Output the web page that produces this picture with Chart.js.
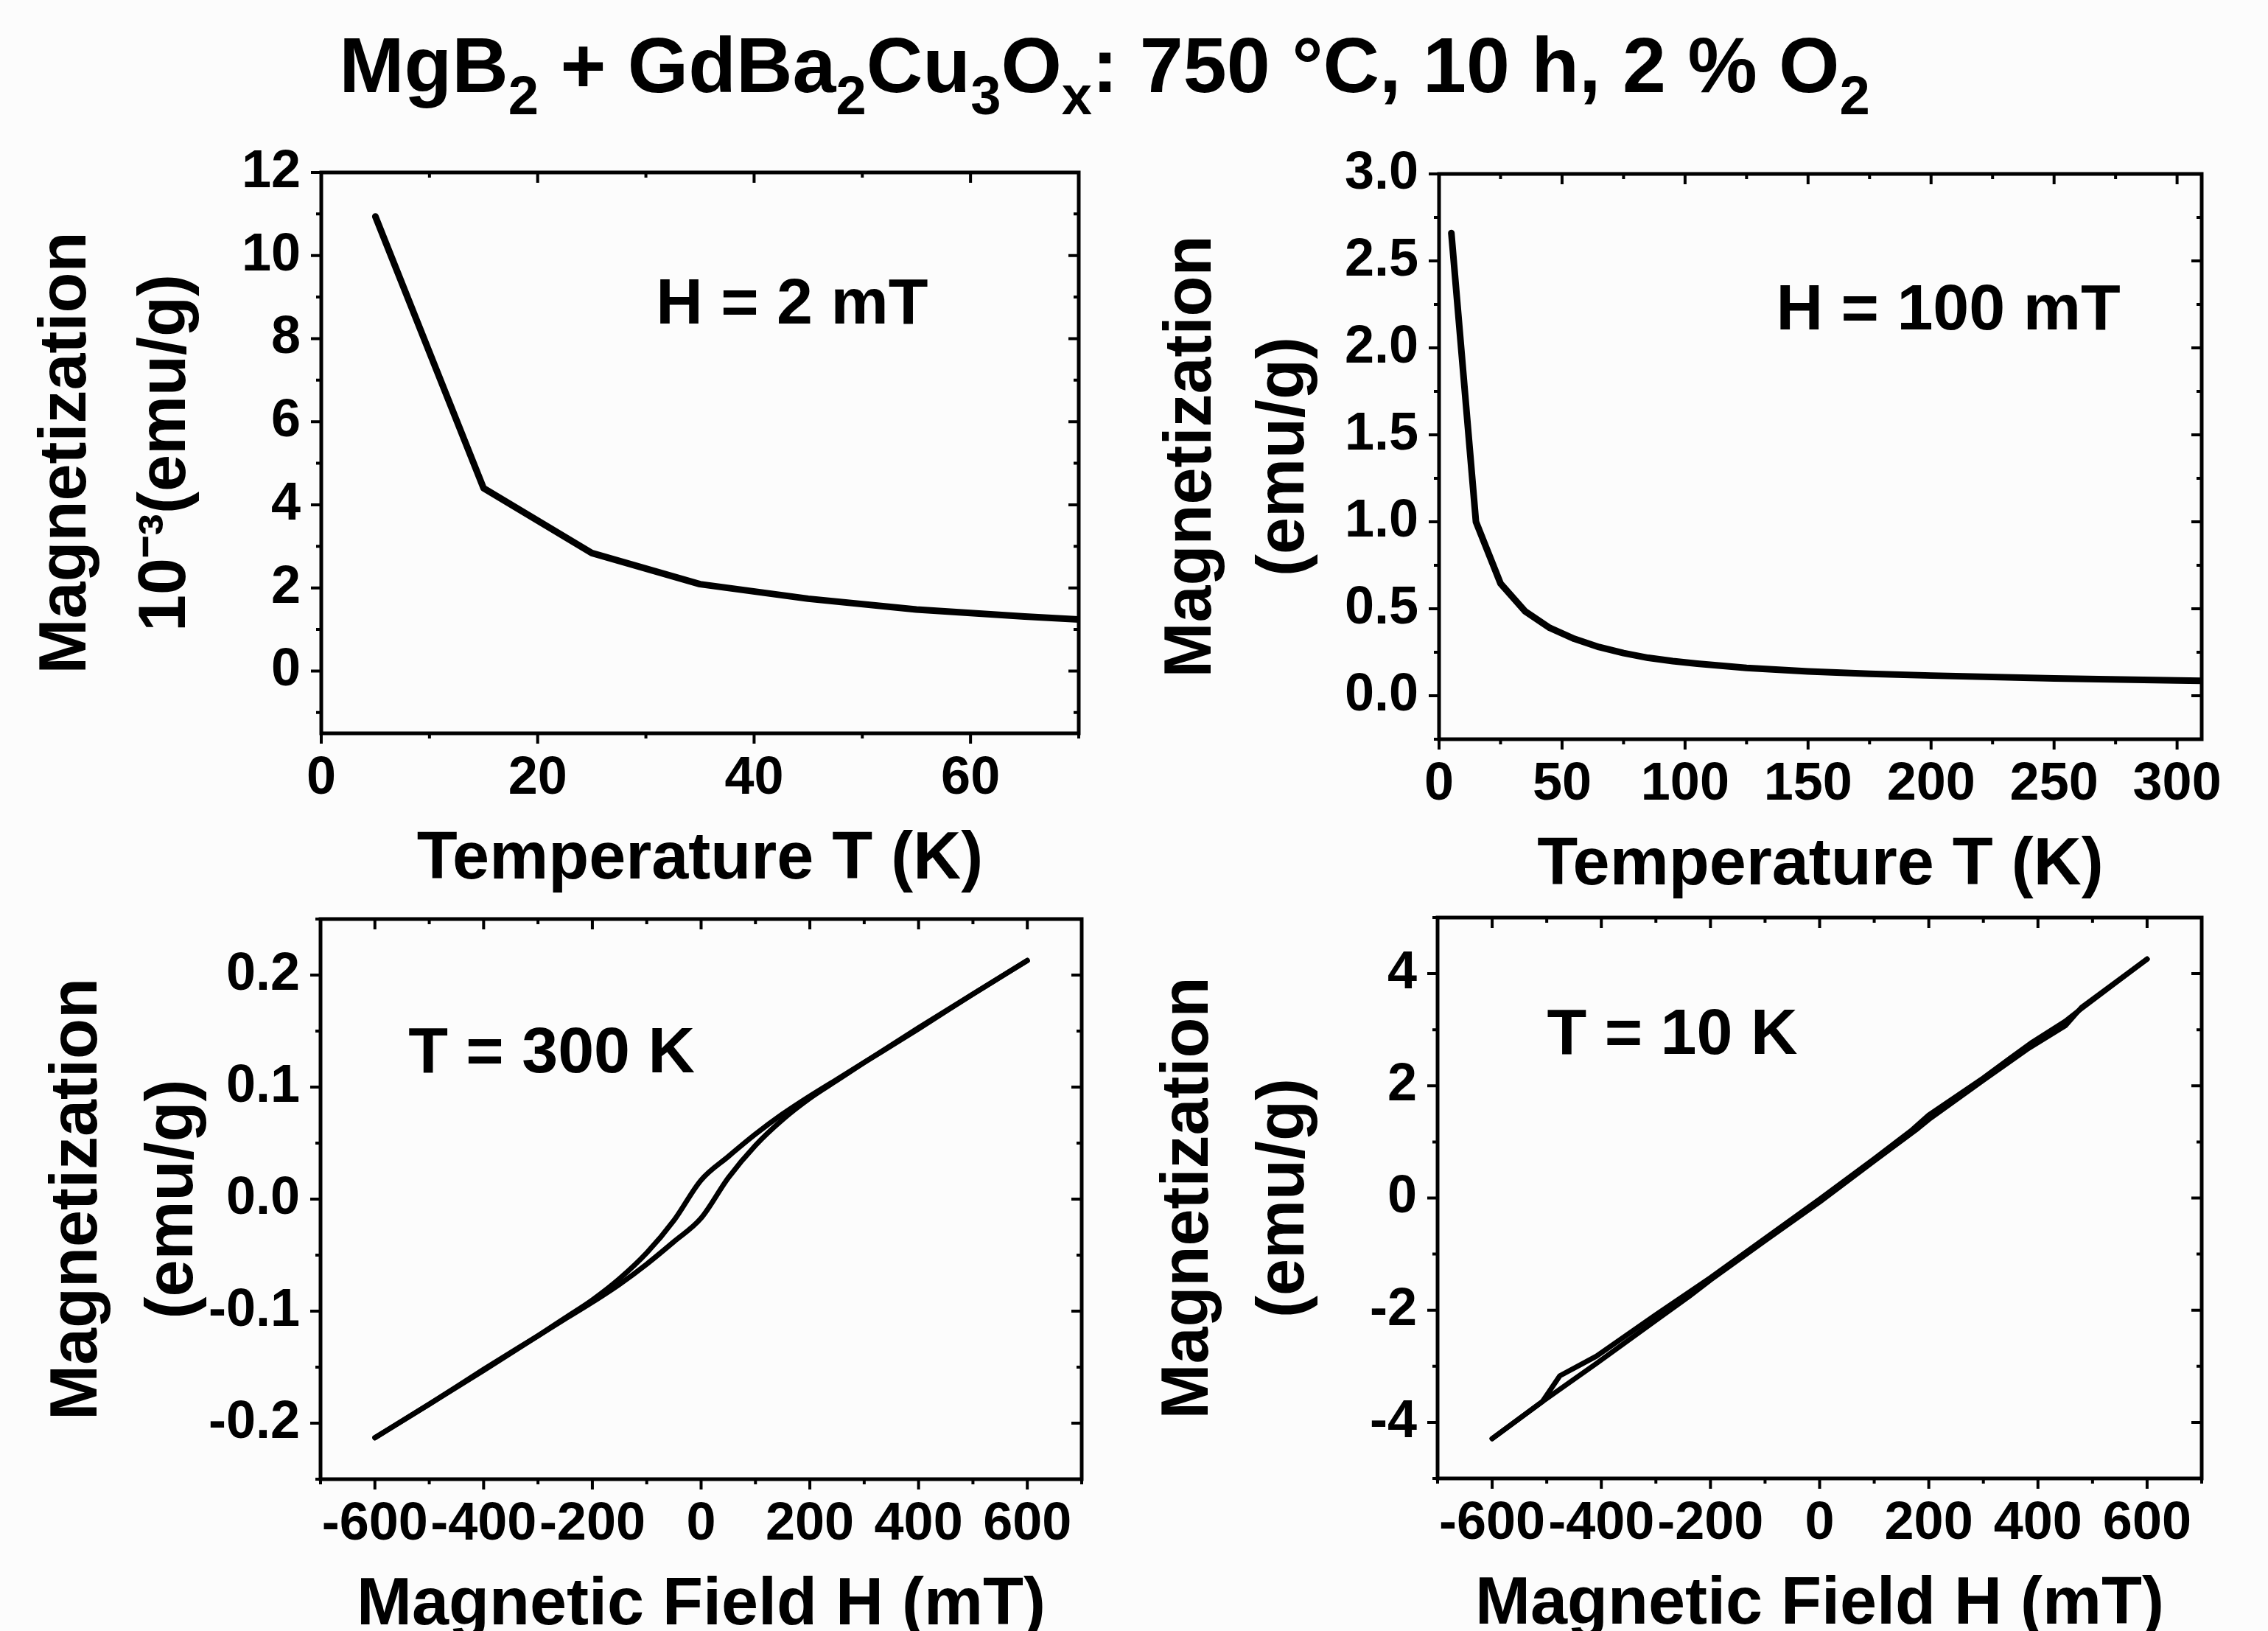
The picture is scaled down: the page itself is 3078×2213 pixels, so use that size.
<!DOCTYPE html>
<html>
<head>
<meta charset="utf-8">
<script src="https://cdn.jsdelivr.net/npm/chart.js@4.4.1/dist/chart.umd.min.js"></script>
<style>
html, body { margin:0; padding:0; background:#fcfcfc; width:3078px; height:2213px; overflow:hidden; position:relative; font-family:"Liberation Sans", Arial, sans-serif; }
#title { position:absolute; left:1499px; top:35px; transform:translateX(-50%); font-size:106px; font-weight:bold; line-height:106px; white-space:nowrap; color:#000; }
#title sub { font-size:0.7em; vertical-align:baseline; position:relative; top:30px; line-height:0; }
.panel { position:absolute; }
</style>
</head>
<body>
<div id="title">MgB<sub>2</sub> + GdBa<sub>2</sub>Cu<sub>3</sub>O<sub>x</sub>: 750 °C, 10 h, 2 % O<sub>2</sub></div>
<div class="panel" style="left:0px;top:154px"><canvas id="c1" width="1504" height="1071"></canvas></div>
<div class="panel" style="left:1510px;top:156px"><canvas id="c2" width="1538" height="1077"></canvas></div>
<div class="panel" style="left:0px;top:1167px"><canvas id="c3" width="1508" height="1070"></canvas></div>
<div class="panel" style="left:1510px;top:1165px"><canvas id="c4" width="1538" height="1071"></canvas></div>
<script>
// M(T) at H = 2 mT (10^-3 emu/g)
var tempLow = [5, 15, 25, 35, 45, 55, 65, 75];
var magLow = [10.94, 4.40, 2.84, 2.09, 1.74, 1.48, 1.31, 1.17];

// M(T) at H = 100 mT (emu/g)
var tempHigh = [5, 15, 25, 35, 45, 55, 65, 75, 85, 95, 105, 125, 150, 175, 200, 250, 300, 310];
var magHigh = [2.66, 1.00, 0.645, 0.485, 0.39, 0.327, 0.28, 0.245, 0.218, 0.199, 0.184, 0.16, 0.14, 0.126, 0.116, 0.10, 0.088, 0.086];

// M(H) loop at 300 K (two branches)
var field300 = [-600, -500, -400, -300, -250, -200, -150, -100, -50, 0, 50, 100, 150, 200, 250, 300, 400, 500, 600];
var magUp300 = [-0.213, -0.183, -0.153, -0.122, -0.106, -0.090, -0.071, -0.048, -0.019, 0.017, 0.038, 0.058, 0.076, 0.092, 0.107, 0.122, 0.152, 0.183, 0.213];
var magDown300 = [-0.213, -0.183, -0.152, -0.122, -0.107, -0.092, -0.076, -0.058, -0.038, -0.017, 0.019, 0.048, 0.071, 0.090, 0.106, 0.122, 0.153, 0.183, 0.213];

// M(H) loop at 10 K (two branches)
var fieldA10 = [-600, -508, -476, -409, -300, -200, -100, 0, 100, 170, 200, 300, 350, 390, 450, 480, 600];
var magA10 = [-4.29, -3.63, -3.17, -2.82, -2.08, -1.42, -0.72, -0.02, 0.70, 1.22, 1.48, 2.14, 2.50, 2.78, 3.15, 3.38, 4.26];
var fieldB10 = [-600, -508, -409, -300, -240, -200, -100, 0, 100, 180, 200, 300, 380, 450, 480, 600];
var magB10 = [-4.29, -3.63, -2.95, -2.18, -1.76, -1.46, -0.76, -0.07, 0.66, 1.24, 1.40, 2.10, 2.65, 3.07, 3.40, 4.26];

var FONT = '"Liberation Sans", Arial, sans-serif';

function pts(xs, ys) {
  var out = [];
  for (var i = 0; i < xs.length; i++) out.push({ x: xs[i], y: ys[i] });
  return out;
}

function multipleOf(v, step) {
  var q = v / step;
  return Math.abs(q - Math.round(q)) < 1e-6;
}

// frame on all four sides, ticks out on bottom/left and in on top/right, plus the label
var framePlugin = {
  id: 'frame',
  afterDraw: function (chart) {
    var a = chart.chartArea, ctx = chart.ctx;
    var xs = chart.scales.x, ys = chart.scales.y;
    var o = chart.options.plugins.frame;
    ctx.save();
    ctx.strokeStyle = '#000';
    ctx.lineWidth = 5;
    ctx.strokeRect(a.left, a.top, a.right - a.left, a.bottom - a.top);
    ctx.lineWidth = 4;
    ctx.beginPath();
    xs.ticks.forEach(function (t) {
      var px = xs.getPixelForValue(t.value);
      var len = t.label !== '' ? 14 : 7;
      ctx.moveTo(px, a.bottom); ctx.lineTo(px, a.bottom + len);
      ctx.moveTo(px, a.top); ctx.lineTo(px, a.top + len);
    });
    ys.ticks.forEach(function (t) {
      var py = ys.getPixelForValue(t.value);
      var len = t.label !== '' ? 14 : 7;
      ctx.moveTo(a.left, py); ctx.lineTo(a.left - len, py);
      ctx.moveTo(a.right, py); ctx.lineTo(a.right - len, py);
    });
    ctx.stroke();
    ctx.fillStyle = '#000';
    ctx.font = 'bold 88px ' + FONT;
    ctx.textAlign = 'center';
    ctx.textBaseline = 'middle';
    ctx.fillText(o.label, xs.getPixelForValue(o.lx), ys.getPixelForValue(o.ly));
    ctx.restore();
  }
};

function scale(c, horizontal) {
  return {
    type: 'linear',
    position: horizontal ? 'bottom' : 'left',
    min: c.min,
    max: c.max,
    grid: { display: false, drawTicks: false },
    border: { display: false },
    ticks: {
      stepSize: c.step,
      autoSkip: false,
      includeBounds: false,
      maxRotation: 0,
      minRotation: 0,
      color: '#000',
      font: { family: FONT, size: 72, weight: 'bold' },
      padding: horizontal ? 19 : 28,
      callback: function (v) { return multipleOf(v, c.every) ? c.fmt(v) : ''; }
    },
    title: {
      display: true,
      text: c.title,
      color: '#000',
      font: { family: FONT, size: 90, weight: 'bold', lineHeight: c.lh || 1.2 },
      padding: horizontal ? { top: 4, bottom: 4 } : { top: c.pad, bottom: 4 }
    },
    afterFit: function (s) {
      if (horizontal) s.height = 230; else s.width = c.size;
    }
  };
}

function line(data, width, mono) {
  return {
    data: data,
    borderColor: '#000',
    borderWidth: width,
    pointRadius: 0,
    fill: false,
    tension: 0,
    cubicInterpolationMode: mono ? 'monotone' : 'default',
    borderCapStyle: 'round',
    borderJoinStyle: 'round'
  };
}

function makeChart(id, datasets, xc, yc, note, padRight) {
  return new Chart(document.getElementById(id), {
    type: 'line',
    data: { datasets: datasets },
    options: {
      responsive: false,
      animation: false,
      devicePixelRatio: 1,
      events: [],
      layout: { padding: { top: 80, right: padRight, left: 0, bottom: 0 } },
      plugins: { legend: { display: false }, tooltip: { enabled: false }, frame: note },
      scales: { x: scale(xc, true), y: scale(yc, false) }
    },
    plugins: [framePlugin]
  });
}

function str(v) { return String(Math.round(v)); }
function fix1(v) { return (Math.abs(v) < 1e-9 ? 0 : v).toFixed(1); }

makeChart('c1', [line(pts(tempLow, magLow), 9, false)],
  { min: 0, max: 70, step: 10, every: 20, fmt: str, title: 'Temperature T (K)' },
  { min: -1.5, max: 12, step: 1, every: 2, fmt: str, title: ['Magnetization', '10\u207B\u00B3(emu/g)'], lh: '135px', pad: 24, size: 436 },
  { label: 'H = 2 mT', lx: 43.5, ly: 8.8 }, 40);

makeChart('c2', [line(pts(tempHigh, magHigh), 9, false)],
  { min: 0, max: 310, step: 25, every: 50, fmt: str, title: 'Temperature T (K)' },
  { min: -0.25, max: 3, step: 0.25, every: 0.5, fmt: fix1, title: ['Magnetization', '(emu/g)'], lh: '126px', pad: 45, size: 443 },
  { label: 'H = 100 mT', lx: 207, ly: 2.21 }, 60);

makeChart('c3', [line(pts(field300, magUp300), 7, true), line(pts(field300, magDown300), 7, true)],
  { min: -700, max: 700, step: 100, every: 200, fmt: str, title: 'Magnetic Field H (mT)' },
  { min: -0.25, max: 0.25, step: 0.05, every: 0.1, fmt: fix1, title: ['Magnetization', '(emu/g)'], lh: '130px', pad: 41, size: 435 },
  { label: 'T = 300 K', lx: -275, ly: 0.129 }, 40);

makeChart('c4', [line(pts(fieldA10, magA10), 7, false), line(pts(fieldB10, magB10), 7, false)],
  { min: -700, max: 700, step: 100, every: 200, fmt: str, title: 'Magnetic Field H (mT)' },
  { min: -5, max: 5, step: 1, every: 2, fmt: str, title: ['Magnetization', '(emu/g)'], lh: '130px', pad: 39, size: 441 },
  { label: 'T = 10 K', lx: -270, ly: 2.89 }, 60);
</script>
</body>
</html>
